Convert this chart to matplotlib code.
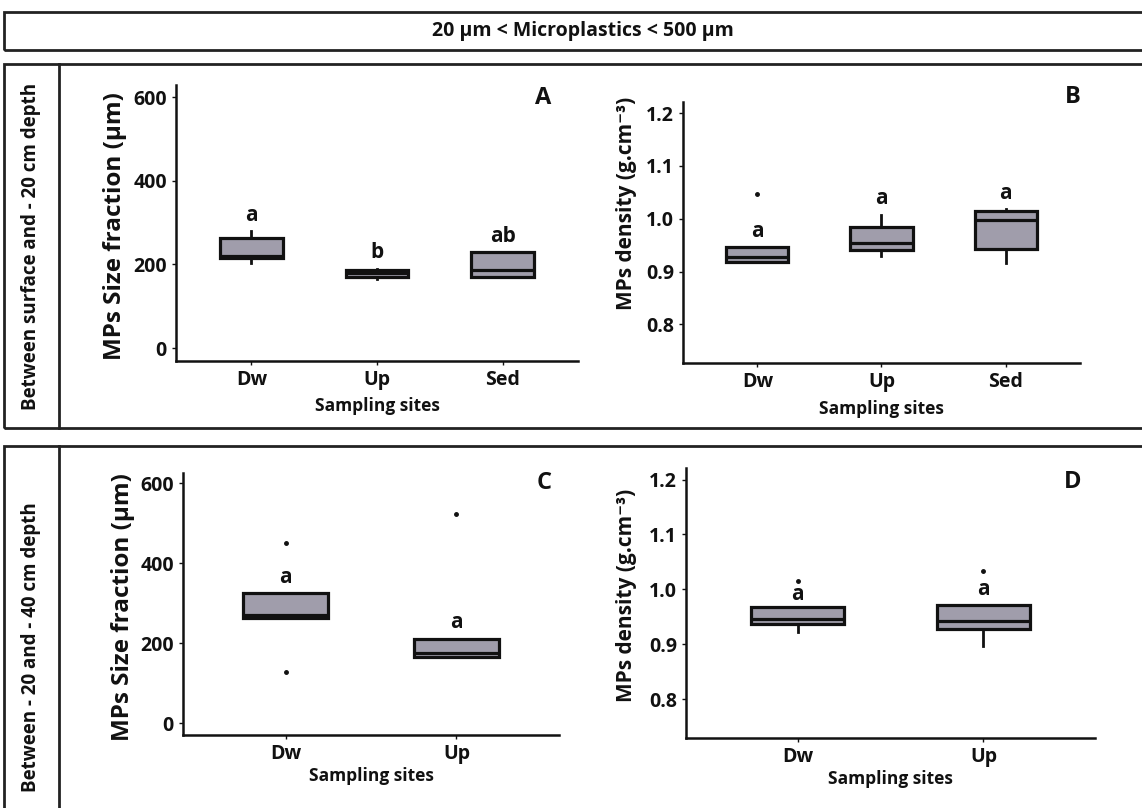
import matplotlib.pyplot as plt
from matplotlib.patches import Rectangle
from matplotlib.lines import Line2D

plt.rcParams['font.family'] = ['Open Sans', 'DejaVu Sans']

W, H = 1142, 808

# ------------------ DATOS ------------------
sitios3 = ["Dw", "Up", "Sed"]
sitios2 = ["Dw", "Up"]

# A: tamaño (µm), 0-20 cm
a_whislo = [203, 165, 169]
a_q1 = [215, 171, 171]
a_med = [221, 179, 187]
a_q3 = [263, 186, 229]
a_whishi = [279, 190, 229]
a_fliers = [[], [], []]
a_letras = ["a", "b", "ab"]
a_letras_y = [317, 228, 267]

# B: densidad (g.cm-3), 0-20 cm
b_whislo = [0.919, 0.930, 0.917]
b_q1 = [0.919, 0.941, 0.942]
b_med = [0.928, 0.954, 0.998]
b_q3 = [0.946, 0.984, 1.015]
b_whishi = [0.946, 1.008, 1.018]
b_fliers = [[1.046], [], []]
b_letras = ["a", "a", "a"]
b_letras_y = [0.976, 1.039, 1.047]

# C: tamaño (µm), 20-40 cm
c_whislo = [264, 166]
c_q1 = [264, 166]
c_med = [272, 177]
c_q3 = [325, 212]
c_whishi = [325, 212]
c_fliers = [[450, 129], [523]]
c_letras = ["a", "a"]
c_letras_y = [365, 252]

# D: densidad (g.cm-3), 20-40 cm
d_whislo = [0.923, 0.897]
d_q1 = [0.936, 0.927]
d_med = [0.945, 0.942]
d_q3 = [0.968, 0.971]
d_whishi = [0.968, 0.971]
d_fliers = [[1.016], [1.034]]
d_letras = ["a", "a"]
d_letras_y = [0.991, 1.000]

size_ticks = [0, 200, 400, 600]
dens_ticks = [0.8, 0.9, 1.0, 1.1, 1.2]


def px_axes(l, t, r, b):
    return [l / W, 1 - b / H, (r - l) / W, (b - t) / H]


def stats(sitios, wl, q1, med, q3, wh, fl):
    return [dict(label=s, whislo=wl[i], q1=q1[i], med=med[i], q3=q3[i],
                 whishi=wh[i], fliers=fl[i]) for i, s in enumerate(sitios)]


def panel(rect, st, letras, letras_y, ylim, yticks, ylabel, ylab_size, fmt, ylab_xy, xlab_y):
    ax = fig.add_axes(px_axes(*rect))
    ax.bxp(st, positions=range(1, len(st) + 1), widths=0.5, patch_artist=True,
           showcaps=False,
           boxprops=dict(facecolor='#a09dab', edgecolor='#111111', linewidth=2.3),
           medianprops=dict(color='#111111', linewidth=2.3),
           whiskerprops=dict(color='#111111', linewidth=2.0),
           flierprops=dict(marker='o', markersize=2.5, markerfacecolor='#111111',
                           markeredgecolor='#111111'))
    ax.set_xlim(0.4, len(st) + 0.6)
    ax.set_ylim(*ylim)
    ax.set_yticks(yticks)
    ax.set_yticklabels([fmt.format(v) for v in yticks])
    for s in ['top', 'right']:
        ax.spines[s].set_visible(False)
    for s in ['left', 'bottom']:
        ax.spines[s].set_linewidth(1.8)
        ax.spines[s].set_color('#111111')
    ax.tick_params(axis='both', length=3, width=1, colors='#111111', labelsize=14)
    for lab in ax.get_xticklabels() + ax.get_yticklabels():
        lab.set_fontweight('bold')
    for i, (t, y) in enumerate(zip(letras, letras_y)):
        ax.text(i + 1, y, t, ha='center', va='center', fontsize=15, fontweight='bold',
                color='#111111')
    ax.set_ylabel(ylabel, fontsize=ylab_size, fontweight='bold', color='#111111')
    ax.yaxis.set_label_coords(*ylab_xy)
    ax.set_xlabel("Sampling sites", fontsize=12.5, fontweight='bold', color='#111111')
    ax.xaxis.set_label_coords(0.5, xlab_y)
    return ax


fig = plt.figure(figsize=(W / 100, H / 100), dpi=100)

# marcos
def caja(l, t, r, b):
    fig.patches.append(Rectangle((l / W, 1 - b / H), (r - l) / W, (b - t) / H,
                                 transform=fig.transFigure, fill=False,
                                 edgecolor='#222222', linewidth=2.0))

caja(4, 12, 1160, 50)
caja(4, 64, 1160, 428)
caja(4, 446, 1160, 830)
for t, b in [(64, 428), (446, 830)]:
    fig.lines.append(Line2D([59 / W, 59 / W], [1 - t / H, 1 - b / H],
                            transform=fig.transFigure, color='#222222', linewidth=2.0))

fig.text(583 / W, 1 - 31 / H, "20 µm < Microplastics < 500 µm", ha='center', va='center',
         fontsize=14, fontweight='bold', color='#111111')
fig.text(31 / W, 1 - 246 / H, "Between surface and - 20 cm depth", rotation=90,
         ha='center', va='center', fontsize=13.5, fontweight='bold', color='#111111')
fig.text(31 / W, 1 - 647 / H, "Between - 20 and - 40 cm depth", rotation=90,
         ha='center', va='center', fontsize=13.5, fontweight='bold', color='#111111')

size_lab = "MPs Size fraction (µm)"
dens_lab = "MPs density (g.cm⁻³)"

panel((176, 85, 578, 361), stats(sitios3, a_whislo, a_q1, a_med, a_q3, a_whishi, a_fliers),
      a_letras, a_letras_y, (-31, 629), size_ticks, size_lab, 17.5, "{:.0f}",
      (-0.122, 0.49), -0.13)
panel((683, 102, 1080, 363), stats(sitios3, b_whislo, b_q1, b_med, b_q3, b_whishi, b_fliers),
      b_letras, b_letras_y, (0.727, 1.221), dens_ticks, dens_lab, 15, "{:.1f}",
      (-0.116, 0.61), -0.142)
panel((183, 473, 559, 735), stats(sitios2, c_whislo, c_q1, c_med, c_q3, c_whishi, c_fliers),
      c_letras, c_letras_y, (-29, 626), size_ticks, size_lab, 17.5, "{:.0f}",
      (-0.128, 0.49), -0.122)
panel((686, 468, 1095, 738), stats(sitios2, d_whislo, d_q1, d_med, d_q3, d_whishi, d_fliers),
      d_letras, d_letras_y, (0.729, 1.221), dens_ticks, dens_lab, 15, "{:.1f}",
      (-0.12, 0.53), -0.119)

for letra, x, y in [("A", 543, 98), ("B", 1073, 97), ("C", 544, 483), ("D", 1073, 482)]:
    fig.text(x / W, 1 - y / H, letra, ha='center', va='center', fontsize=17,
             fontweight='bold', color='#111111')

fig.savefig("out.png", dpi=100)
